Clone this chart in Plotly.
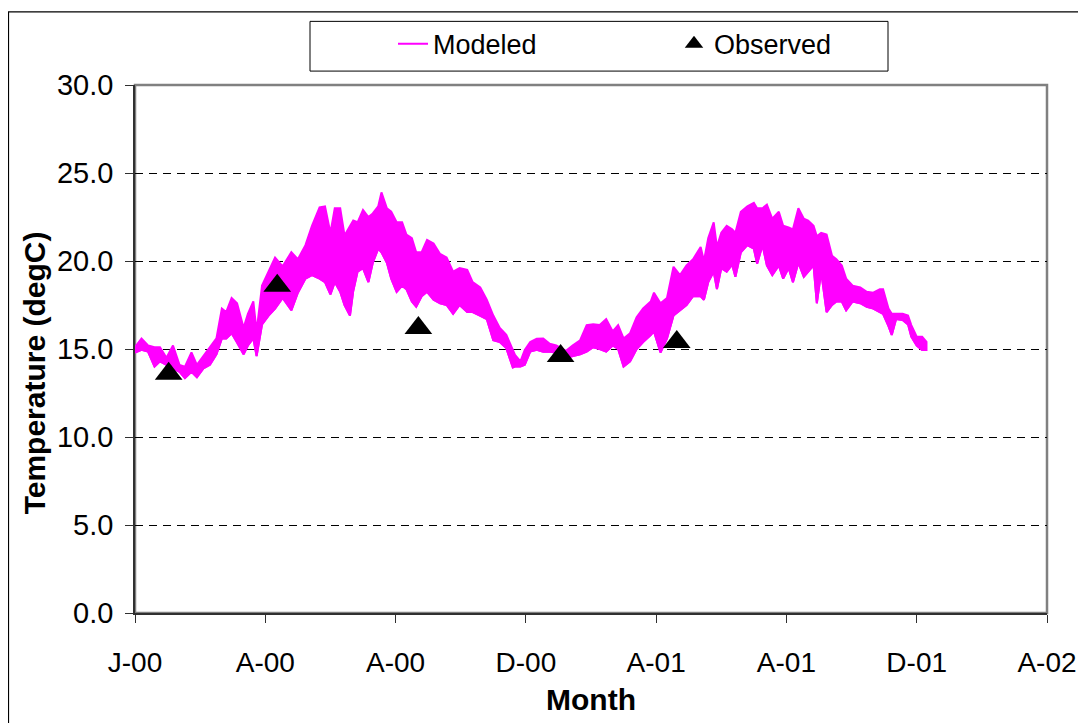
import pandas as pd
import plotly.graph_objects as go

# ---- data ----
START = "2000-01-01"

# modeled temperature: envelope of the dense (sub-daily) series, day offsets from START
model_days = [0, 6, 12, 18, 23, 29, 35, 41, 46, 52, 57, 63, 69, 75, 80, 84, 89, 94, 100, 104,
              109, 112, 117, 123, 129, 136, 144, 150, 157, 163, 170, 175, 180, 184, 189, 193,
              198, 201, 205, 210, 215, 219, 224, 227, 232, 236, 241, 246, 250, 255, 259, 264,
              269, 275, 281, 287, 293, 299, 306, 311, 318, 324, 330, 336, 342, 348, 350, 355,
              359, 364, 370, 376, 382, 388, 397, 403, 410, 416, 422, 428, 434, 440, 445, 450,
              456, 462, 468, 475, 478, 484, 490, 496, 502, 508, 514, 521, 524, 528, 533, 536,
              540, 545, 550, 553, 558, 564, 570, 573, 578, 582, 587, 593, 597, 602, 606, 611,
              616, 620, 625, 628, 632, 637, 642, 646, 651, 655, 661, 668, 674, 680, 686, 689,
              694, 697, 701, 707, 712, 715, 720, 725, 729]
model_high = [15.1, 15.6, 15.2, 15.1, 15.1, 14.5, 15.2, 14.1, 14.0, 14.8, 14.1, 14.6, 15.1, 15.6,
              17.3, 17.1, 17.9, 17.6, 16.2, 17.0, 17.7, 16.0, 18.6, 19.4, 20.2, 19.7, 20.5, 20.1,
              20.9, 22.0, 23.05, 23.1, 21.6, 23.0, 23.0, 21.45, 22.0, 22.3, 22.2, 22.9, 22.5, 22.7,
              23.1, 23.9, 23.0, 22.8, 22.2, 22.2, 21.5, 21.3, 20.5, 20.5, 21.2, 21.0, 20.4, 20.2,
              19.4, 19.6, 19.5, 18.8, 18.5, 17.8, 16.9, 16.2, 15.8, 14.9, 14.67, 14.3, 14.95, 15.4,
              15.58, 15.6, 15.3, 15.2, 14.9, 15.2, 15.5, 16.36, 16.4, 16.36, 16.7, 16.0, 16.36,
              15.6, 15.9, 16.8, 17.3, 17.7, 18.2, 17.6, 17.9, 19.67, 19.2, 19.75, 20.1, 20.8, 20.0,
              21.3, 22.2, 20.8, 21.6, 22.0, 21.8, 21.6, 22.8, 23.1, 23.3, 23.0, 23.0, 23.2, 22.4,
              22.8, 22.0, 21.9, 21.8, 23.0, 22.4, 22.3, 22.0, 21.4, 21.6, 21.5, 20.3, 20.1, 19.75,
              19.0, 18.6, 18.5, 18.25, 18.2, 18.4, 18.4, 17.3, 17.0, 17.0, 17.0, 16.9, 16.36, 15.7,
              15.7, 15.4]
model_low = [14.8, 14.95, 14.85, 14.0, 14.3, 14.1, 13.9, 13.7, 13.35, 13.7, 13.4, 13.9, 14.1, 14.7,
             15.6, 15.6, 15.9, 15.4, 14.7, 15.2, 15.6, 14.6, 16.4, 16.9, 17.3, 17.9, 17.2, 18.2,
             19.0, 19.2, 19.0, 18.8, 18.1, 18.8, 18.25, 17.5, 16.9, 18.3, 19.4, 19.6, 18.8, 19.9,
             20.7, 20.5, 19.9, 19.0, 18.25, 18.6, 18.4, 17.7, 17.4, 18.0, 18.25, 17.8, 17.6, 17.5,
             17.0, 17.5, 17.1, 17.1, 16.9, 16.7, 15.5, 15.4, 15.05, 13.95, 14.0, 14.0, 14.1, 14.85,
             14.95, 14.85, 14.85, 14.8, 14.5, 14.6, 14.7, 14.85, 15.1, 15.0, 14.85, 15.2, 15.0,
             14.0, 14.3, 15.0, 15.4, 15.8, 16.0, 14.8, 15.6, 16.9, 17.2, 17.5, 18.0, 18.0, 17.8,
             18.8, 19.4, 18.4, 19.6, 19.4, 19.8, 19.1, 20.5, 20.9, 20.7, 19.85, 20.9, 19.75, 19.2,
             19.75, 19.0, 19.6, 18.8, 19.9, 19.1, 19.4, 19.75, 17.6, 19.4, 17.1, 17.5, 17.7, 17.7,
             17.2, 17.7, 17.6, 17.4, 17.3, 17.1, 17.0, 16.3, 15.8, 16.7, 16.65, 16.4, 15.7, 15.2,
             14.95, 14.95]

# observed temperatures
obs_days = [31, 131, 261, 392, 499]
obs_temp = [13.6, 18.6, 16.2, 14.6, 15.4]

# x tick labels (every 120 days from START)
tick_days = [0, 120, 240, 360, 480, 600, 720, 840]
tick_labels = ["J-00", "A-00", "A-00", "D-00", "A-01", "A-01", "D-01", "A-02"]

# ---- build ----
start = pd.Timestamp(START)
to_dates = lambda d: start + pd.to_timedelta(d, unit="D")
mx = list(to_dates(model_days))
ox = to_dates(obs_days)
tx = to_dates(tick_days)

MAG = "#FF00FF"
FONT = "Liberation Sans, Arial, sans-serif"

fig = go.Figure()
# band of the dense modeled series (high envelope forward, low envelope back)
fig.add_trace(go.Scatter(x=mx + mx[::-1], y=list(model_high) + list(model_low)[::-1],
                         mode="lines", fill="toself", fillcolor=MAG,
                         line=dict(color=MAG, width=2), showlegend=False, hoverinfo="skip"))
fig.add_trace(go.Scatter(x=mx, y=model_low, mode="lines", name="Modeled",
                         line=dict(color=MAG, width=2)))
fig.add_trace(go.Scatter(x=ox, y=obs_temp, mode="markers", name="Observed",
                         marker=dict(symbol="triangle-up", size=24, color="black",
                                     line=dict(width=0))))

# the page has an 8px body margin; plot area sits at page x 135..1047, y 82..613
W, H = 912, 531
def px(xp):
    return (xp - 135) / W
def py(yp):
    return (613 - yp) / H

fig.update_layout(
    width=1086, height=723,
    margin=dict(l=127, r=47, t=74, b=118),
    paper_bgcolor="white", plot_bgcolor="white",
    font=dict(family=FONT, color="black", size=28),
    showlegend=True,
    legend=dict(orientation="h", x=px(393), xanchor="left", y=py(41), yanchor="middle",
                traceorder="normal",
                bgcolor="rgba(0,0,0,0)", borderwidth=0, entrywidth=236,
                font=dict(size=27, family=FONT), itemsizing="trace"),
    xaxis=dict(type="date", range=[tx[0], tx[-1]], tickvals=tx, ticktext=tick_labels,
               showgrid=False, zeroline=False, showline=True, linecolor="#303030",
               linewidth=1.5, ticks="outside", ticklen=8, tickcolor="#303030",
               tickfont=dict(size=28), ticklabelstandoff=16,
               title=dict(text="<b>Month</b>", font=dict(size=30), standoff=12)),
    yaxis=dict(range=[0, 30], tick0=0, dtick=5, tickformat=".1f",
               showgrid=True, gridcolor="black", gridwidth=1, griddash="8px,6px",
               zeroline=False, showline=True, linecolor="#303030", linewidth=1.5,
               ticks="outside", ticklen=8, tickcolor="#303030",
               tickfont=dict(size=29), ticklabelstandoff=6),
    annotations=[
        dict(text="<b>Temperature (degC)</b>", textangle=-90, xref="paper", yref="paper",
             x=px(34), y=py(372), xanchor="center", yanchor="middle", showarrow=False,
             font=dict(size=30, family=FONT)),
    ],
    shapes=[
        # plot-area border (top/right shown grey)
        dict(type="rect", xref="paper", yref="paper", x0=0, x1=1, y0=0, y1=1,
             line=dict(color="#808080", width=2.5), layer="between"),
        # legend box
        dict(type="rect", xref="paper", yref="paper", x0=px(310), x1=px(888),
             y0=py(68), y1=py(18), line=dict(color="black", width=1), fillcolor="white",
             layer="below"),
        # outer chart border
        dict(type="rect", xref="paper", yref="paper", x0=px(8.5), x1=px(1100),
             y0=py(740), y1=py(8.5), line=dict(color="black", width=1.2), layer="below"),
    ],
)

fig.write_html("out.html")
